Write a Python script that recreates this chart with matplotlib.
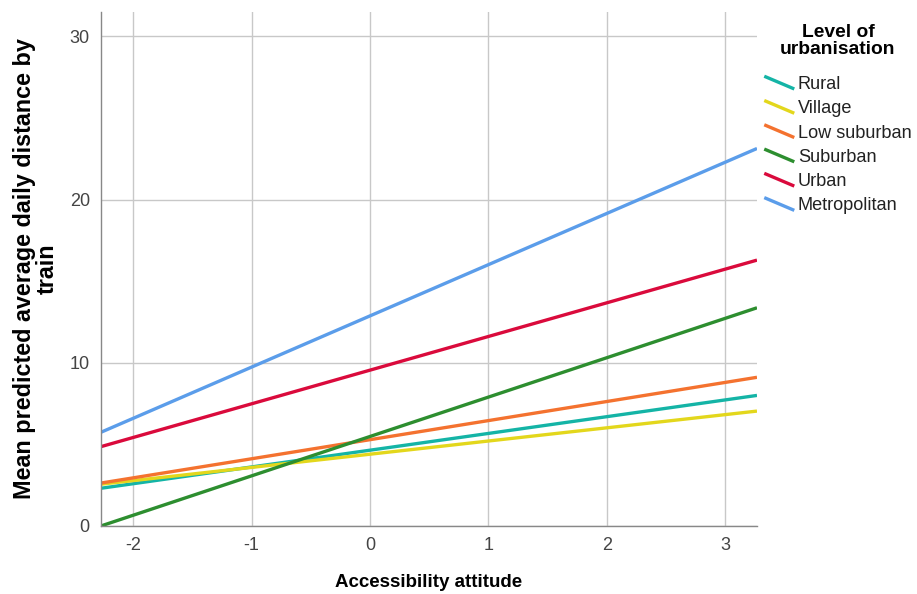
import matplotlib
matplotlib.use("Agg")
import matplotlib.pyplot as plt
from matplotlib.lines import Line2D
from matplotlib.legend_handler import HandlerLine2D

plt.rcParams['font.family'] = ['Liberation Sans', 'DejaVu Sans']

# Data: endpoints of fitted lines at x range ends
x_range = [-2.273, 3.268]
categories = ["Rural", "Village", "Low suburban", "Suburban", "Urban", "Metropolitan"]
y_left = [2.31, 2.56, 2.63, 0.0, 4.86, 5.74]
y_right = [8.00, 7.04, 9.11, 13.37, 16.29, 23.13]
colors = ["#14B4A6", "#E3D71C", "#F4722F", "#2D8E2F", "#DA0A3C", "#5B9DEA"]
x_ticks = [-2, -1, 0, 1, 2, 3]
y_ticks = [0, 10, 20, 30]

fig = plt.figure(figsize=(9.17, 5.94), dpi=100)
ax = fig.add_axes([0.110, 0.1145, 0.7155, 0.8655])

for cat, yl, yr, c in zip(categories, y_left, y_right, colors):
    ax.plot(x_range, [yl, yr], color=c, lw=2.4, label=cat, solid_capstyle='butt')

ax.set_xlim(x_range)
ax.set_ylim(0, 31.5)
ax.set_xticks(x_ticks)
ax.set_yticks(y_ticks)
ax.set_xticklabels([str(t) for t in x_ticks])
ax.grid(True, color="#c8c8c8", lw=1)
ax.set_axisbelow(True)
for s in ["top", "right"]:
    ax.spines[s].set_visible(False)
for s in ["left", "bottom"]:
    ax.spines[s].set_color("#888888")
    ax.spines[s].set_linewidth(1)
ax.tick_params(axis='both', length=0, labelsize=13, labelcolor="#444444", pad=8)

ax.set_xlabel("Accessibility attitude", fontsize=13.5, fontweight='bold', labelpad=14)
ax.set_ylabel("Mean predicted average daily distance by\ntrain", fontsize=16.8,
              fontweight='bold', labelpad=8, linespacing=0.95)


class DiagHandler(HandlerLine2D):
    def create_artists(self, legend, orig_handle, xdescent, ydescent, width, height, fontsize, trans):
        line = Line2D([-xdescent, -xdescent + width], [height * 1.0, 0.0],
                      color=orig_handle.get_color(), lw=orig_handle.get_linewidth(),
                      solid_capstyle='butt')
        line.set_transform(trans)
        return [line]


handles, labels = ax.get_legend_handles_labels()
leg = fig.legend(handles, labels, loc='upper left', bbox_to_anchor=(0.8255, 0.972),
                 frameon=False, fontsize=13.1, title="Level of\nurbanisation",
                 title_fontproperties={'weight': 'bold', 'size': 13.9},
                 handler_map={Line2D: DiagHandler()}, handlelength=1.65,
                 handletextpad=0.2, labelspacing=0.4, borderaxespad=0)
leg.get_title().set_multialignment('center')
leg.get_title().set_linespacing(1.0)
leg._legend_box.sep = 13
for t in leg.get_texts():
    t.set_color("#222222")

fig.savefig("out.png", dpi=100)
